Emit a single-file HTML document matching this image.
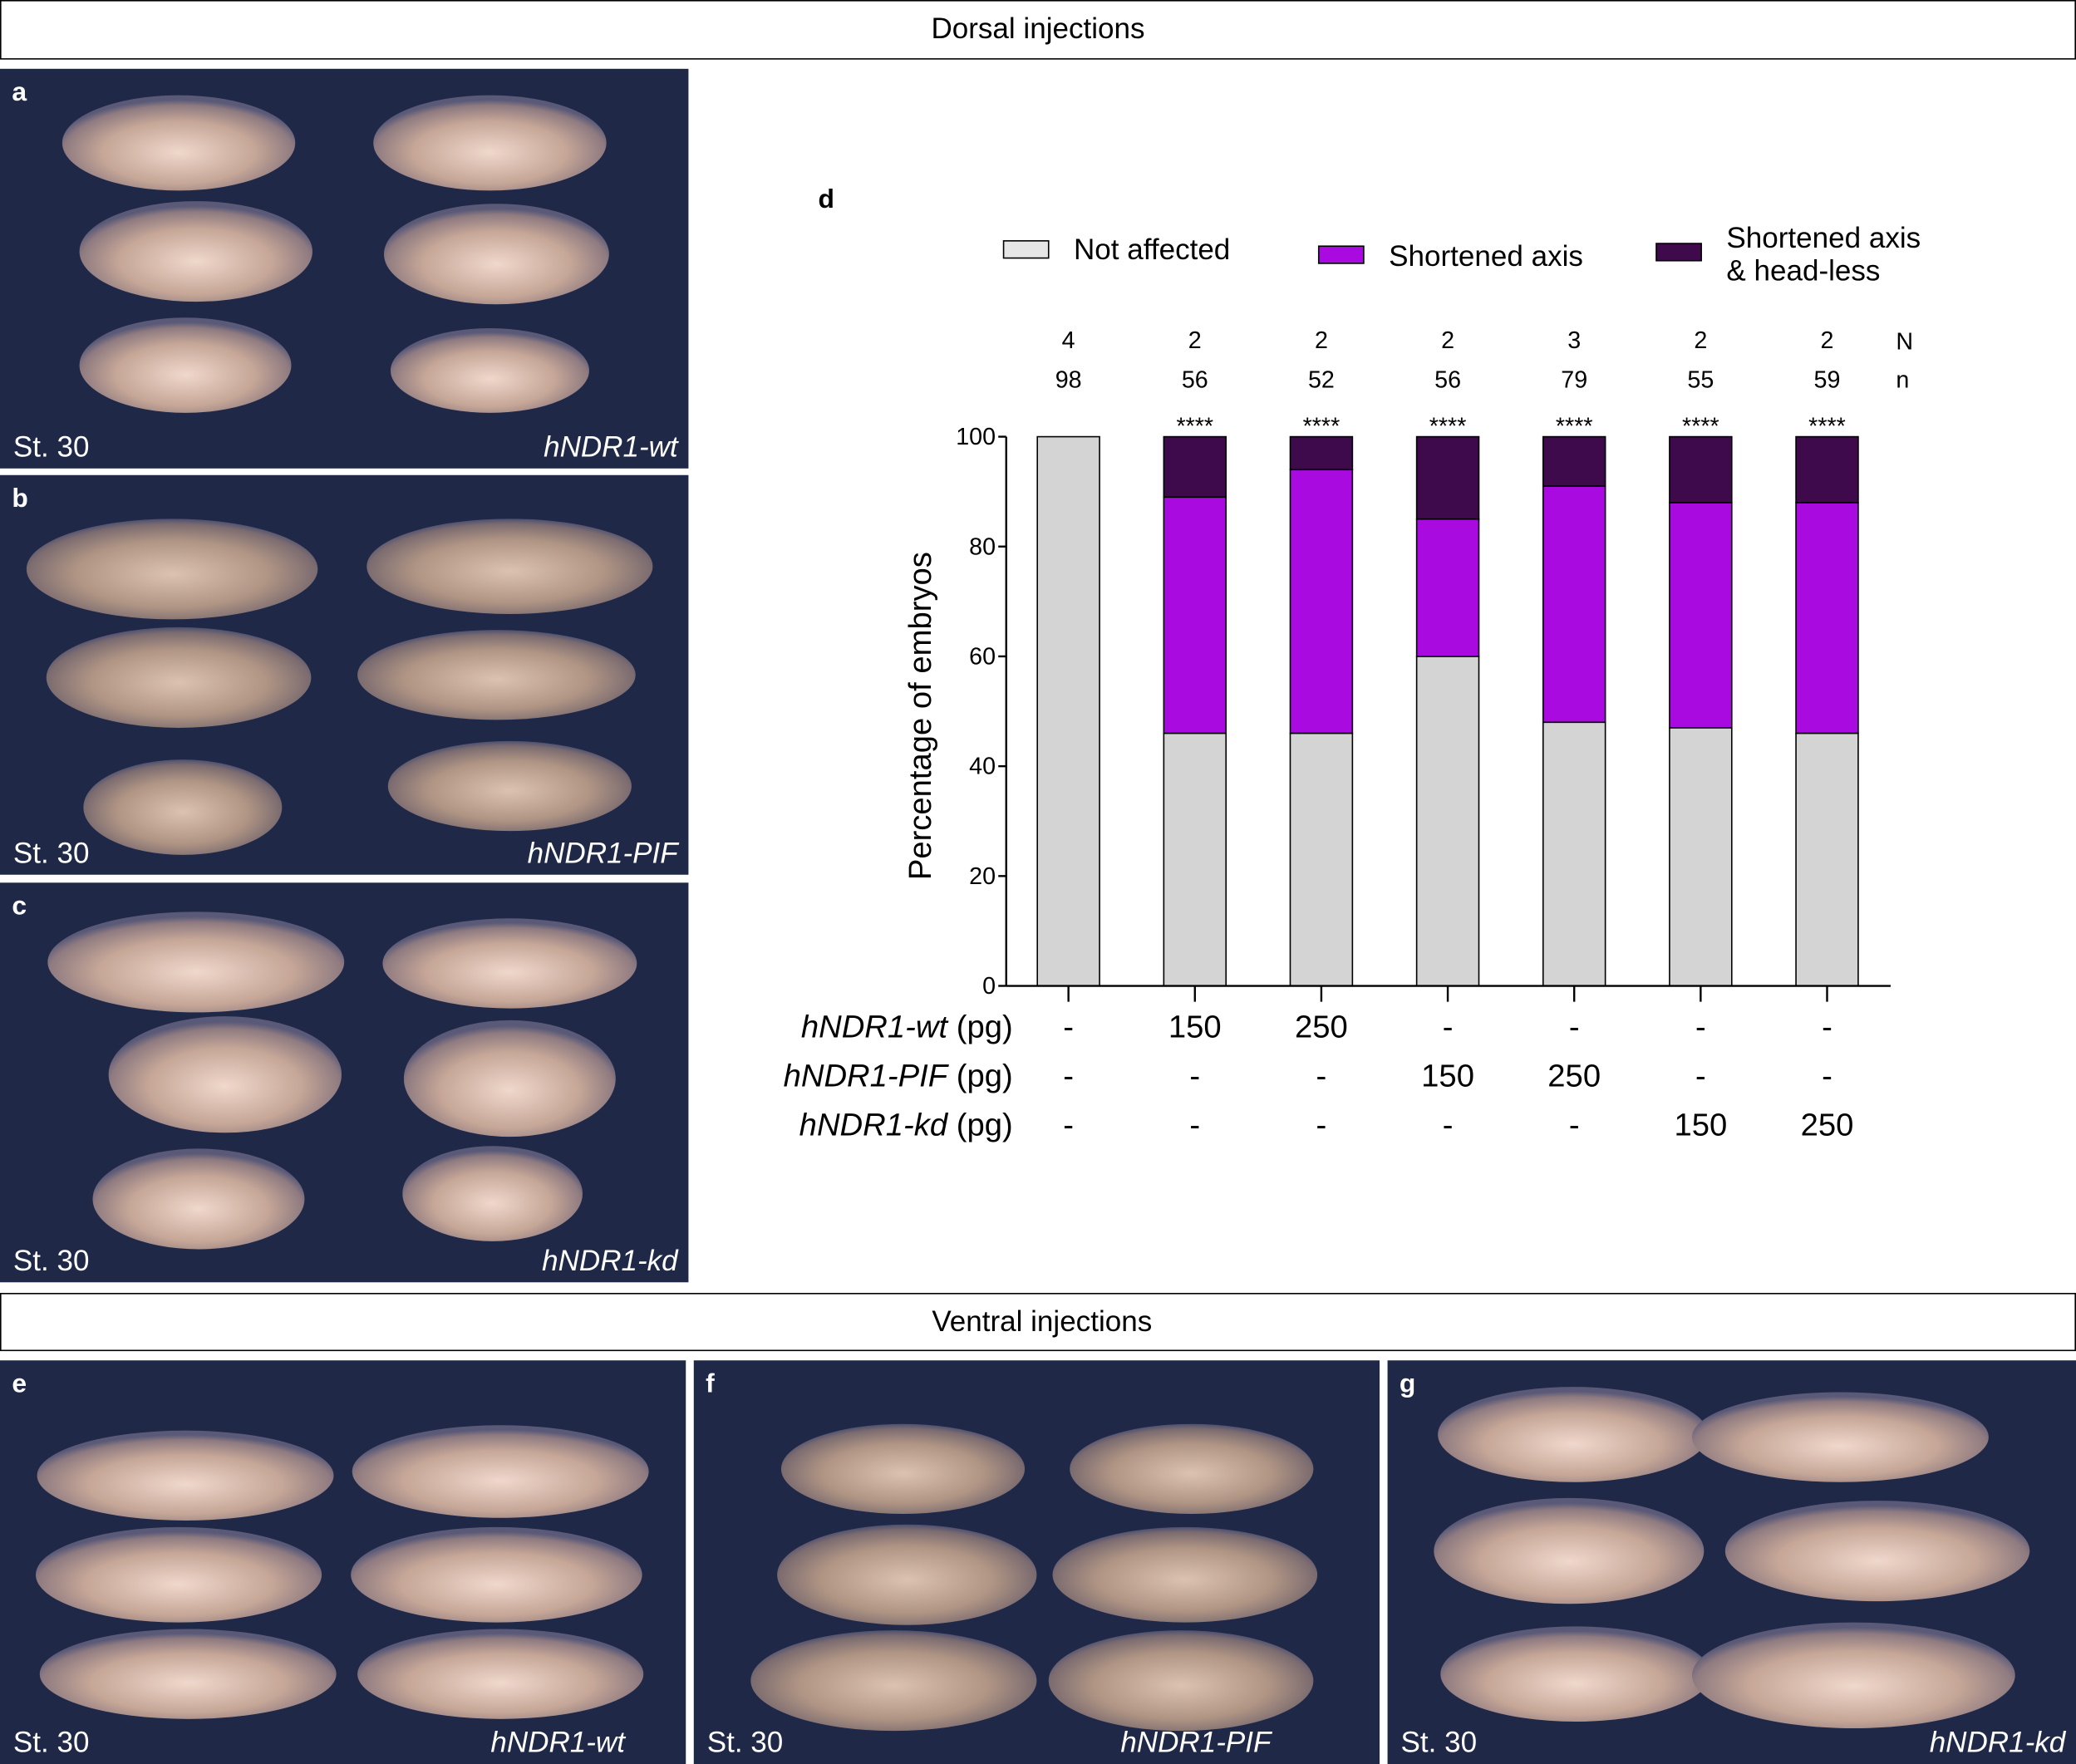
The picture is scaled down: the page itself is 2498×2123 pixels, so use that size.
<!DOCTYPE html>
<html><head><meta charset="utf-8"><style>
html,body{margin:0;padding:0;background:#fff}
svg{display:block}
text{font-family:"Liberation Sans",Arial,sans-serif}
</style></head><body>
<svg id="fig" width="2498" height="2123" viewBox="0 0 1568 1333" preserveAspectRatio="none">
<defs>
<radialGradient id="emb" cx="50%" cy="60%" r="55%">
<stop offset="0" stop-color="#f0d8cc"/><stop offset="0.6" stop-color="#c5a697"/><stop offset="0.9" stop-color="#8e7a80"/><stop offset="1" stop-color="#5a5a78"/>
</radialGradient>
<radialGradient id="emb2" cx="50%" cy="55%" r="55%">
<stop offset="0" stop-color="#dcc2b0"/><stop offset="0.6" stop-color="#b09584"/><stop offset="0.9" stop-color="#7c6c70"/><stop offset="1" stop-color="#4e5070"/>
</radialGradient>
</defs>
<rect x="0.5" y="0.5" width="1567" height="44" fill="#fff" stroke="#000"/>
<text x="784" y="29" font-size="22" text-anchor="middle">Dorsal injections</text>
<rect x="0.5" y="977.5" width="1567" height="43" fill="#fff" stroke="#000"/>
<text x="787" y="1006" font-size="22" text-anchor="middle">Ventral injections</text>
<g id="panels"></g>
<g id="chart"></g>
</svg>
<script>
const NS='http://www.w3.org/2000/svg';
function mk(tag,attrs,parent,txt){const e=document.createElementNS(NS,tag);for(const k in attrs)e.setAttribute(k,attrs[k]);if(txt!==undefined)e.textContent=txt;parent.appendChild(e);return e;}
const P=document.getElementById('panels');
const panels=[
 {id:'a',x:0,y:52,w:520,h:302,lab:'hNDR1-wt',emb:[[135,108,88,36],[370,108,88,36],[148,190,88,38],[375,192,85,38],[140,276,80,36],[370,280,75,32]],g:'emb'},
 {id:'b',x:0,y:359,w:520,h:302,lab:'hNDR1-PIF',emb:[[130,430,110,38],[385,428,108,36],[135,512,100,38],[375,510,105,34],[138,610,75,36],[385,594,92,34]],g:'emb2'},
 {id:'c',x:0,y:667,w:520,h:302,lab:'hNDR1-kd',emb:[[148,727,112,38],[385,728,96,34],[170,812,88,44],[385,815,80,44],[150,906,80,38],[372,902,68,36]],g:'emb'},
 {id:'e',x:0,y:1028,w:518,h:305,lab:'hNDR1-wt',emb:[[140,1115,112,34],[378,1112,112,35],[135,1190,108,36],[375,1190,110,36],[142,1265,112,34],[378,1265,108,34]],g:'emb'},
 {id:'f',x:524,y:1028,w:518,h:305,lab:'hNDR1-PIF',emb:[[682,1110,92,34],[900,1110,92,34],[685,1190,98,38],[895,1190,100,36],[675,1270,108,38],[892,1270,100,38]],g:'emb2'},
 {id:'g',x:1048,y:1028,w:520,h:305,lab:'hNDR1-kd',emb:[[1188,1084,102,36],[1390,1086,112,34],[1185,1172,102,40],[1418,1172,115,38],[1190,1265,102,36],[1400,1266,122,40]],g:'emb'}
];
panels.forEach(p=>{
 const g=mk('g',{},P);
 
 
 mk('rect',{x:p.x,y:p.y,width:p.w,height:p.h,fill:'#1f2847'},g);
 p.emb.forEach(e=>{const el=mk('ellipse',{cx:e[0],cy:e[1],rx:e[2],ry:e[3],fill:'url(#'+p.g+')'},g);
  });
 const t=mk('text',{x:p.x+9,y:p.y+24,'font-size':20,'font-weight':'bold',fill:'#fff'},g,p.id);
 
 const s=mk('text',{x:p.x+10,y:p.y+p.h-9,'font-size':22,fill:'#fff'},g,'St. 30');
 
 const l=mk('text',{x:(p.id==='e'?472:p.id==='f'?960:p.x+p.w-8),y:p.y+p.h-9,'font-size':22,fill:'#fff','font-style':'italic','text-anchor':'end'},g,p.lab);
 
});

// ---- chart data ----
const groupNs=[4,2,2,2,3,2,2];
const groupSizes=[98,56,52,56,79,55,59];
const notAffected=[100,46,46,60,48,47,46];
const shortened=[0,43,48,25,43,41,42];
const headless=[0,11,6,15,9,12,12];
const yTicks=[0,20,40,60,80,100];
const wtDose=['-','150','250','-','-','-','-'];
const pifDose=['-','-','-','150','250','-','-'];
const kdDose=['-','-','-','-','-','150','250'];
const C=document.getElementById('chart');
const x0=760,x1=1428,yb=745,yt=330;
const y=v=>yb-(yb-yt)*v/100;
const xc=i=>807+i*95.5;
const bw=47;
const d=mk('text',{x:618,y:157,'font-size':20,'font-weight':'bold'},C,'d');

// legend
const leg=[['#e6e6e6','Not affected',758,182,811,196],['#a80ae0','Shortened axis',996,186,1049,201],['#3e0a4c','',1251,184,1304,187]];
leg.forEach((L,i)=>{const g=mk('g',{},C);
 mk('rect',{x:L[2],y:L[3],width:34,height:13,fill:L[0],stroke:'#000','stroke-width':1},g);
 if(L[1])mk('text',{x:L[4],y:L[5],'font-size':22},g,L[1]);
 else{mk('text',{x:L[4],y:187,'font-size':22},g,'Shortened axis');mk('text',{x:L[4],y:212,'font-size':22},g,'& head-less');}
});
// bars
for(let i=0;i<notAffected.length;i++){
 const g=mk('g',{},C);
 let b=0;[[notAffected[i],'#d4d4d4'],[shortened[i],'#a80ae0'],[headless[i],'#3e0a4c']].forEach(s=>{
  if(s[0]>0){const r=mk('rect',{x:xc(i)-bw/2,y:y(b+s[0]),width:bw,height:y(b)-y(b+s[0]),fill:s[1],stroke:'#000','stroke-width':1},g);
   }
  b+=s[0];});
 const t1=mk('text',{x:xc(i),y:263,'font-size':18,'text-anchor':'middle'},C,groupNs[i]);
 
 const t2=mk('text',{x:xc(i),y:293,'font-size':18,'text-anchor':'middle'},C,groupSizes[i]);
 
 if(i>0){const st=mk('text',{x:xc(i),y:328,'font-size':18,'text-anchor':'middle'},C,'****');
  }
 mk('line',{x1:xc(i),x2:xc(i),y1:yb,y2:yb+12,stroke:'#000','stroke-width':1.5},C);
 [[wtDose,784],[pifDose,821],[kdDose,858]].forEach(r=>{const t=mk('text',{x:xc(i),y:r[1],'font-size':24,'text-anchor':'middle'},C,r[0][i]);
  });
}
const tn=mk('text',{x:1432,y:264,'font-size':18},C,'N');
const tn2=mk('text',{x:1432,y:293,'font-size':18},C,'n');
// axes
const ya=mk('line',{x1:x0,x2:x0,y1:yt,y2:yb,stroke:'#000','stroke-width':1.5},C);
const xa=mk('line',{x1:x0,x2:x1,y1:yb,y2:yb,stroke:'#000','stroke-width':1.5},C);
yTicks.forEach(v=>{mk('line',{x1:x0-6,x2:x0,y1:y(v),y2:y(v),stroke:'#000','stroke-width':1.5},C);
 const t=mk('text',{x:x0-8,y:y(v)+6,'font-size':18,'text-anchor':'end'},C,v);});
const yt2=mk('text',{x:703,y:541,'font-size':24,'text-anchor':'middle',transform:'rotate(-90 703 541)'},C,'Percentage of embryos');

[['hNDR1-wt',784],['hNDR1-PIF',821],['hNDR1-kd',858]].forEach(r=>{
 const t=mk('text',{x:765,y:r[1],'font-size':24,'text-anchor':'end'},C);
 
 mk('tspan',{'font-style':'italic'},t,r[0]);mk('tspan',{},t,' (pg)');});
</script>
</body></html>
